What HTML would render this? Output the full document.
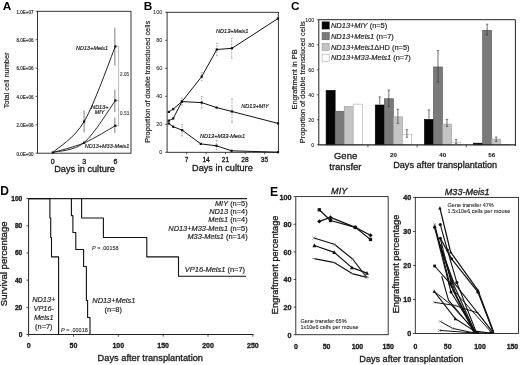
<!DOCTYPE html>
<html><head><meta charset="utf-8"><style>
html,body{margin:0;padding:0;background:#fff;}
svg{display:block;font-family:"Liberation Sans", sans-serif;filter:blur(0.3px);}
text{stroke:#111;stroke-width:0.3px;paint-order:stroke;}
text.nb{stroke:none;}
text.sm{stroke-width:0.08px;}
text.md{stroke-width:0.16px;}
</style></head><body>
<svg width="520" height="365" viewBox="0 0 520 365">
<rect width="520" height="365" fill="#fff"/>
<text x="2.70" y="9.80" font-size="11.8" text-anchor="start" font-weight="bold" font-style="normal" fill="#000" class="nb">A</text>
<rect x="37.50" y="11.30" width="93.50" height="141.90" fill="none" stroke="#222" stroke-width="0.9"/>
<line x1="35.50" y1="11.30" x2="37.50" y2="11.30" stroke="#222" stroke-width="0.7"/>
<text x="33.50" y="13.70" font-size="4.5" text-anchor="end" font-weight="normal" font-style="normal" fill="#333" class="md">1.0E+07</text>
<line x1="35.50" y1="39.68" x2="37.50" y2="39.68" stroke="#222" stroke-width="0.7"/>
<text x="33.50" y="42.08" font-size="4.5" text-anchor="end" font-weight="normal" font-style="normal" fill="#333" class="md">8.0E+06</text>
<line x1="35.50" y1="68.06" x2="37.50" y2="68.06" stroke="#222" stroke-width="0.7"/>
<text x="33.50" y="70.46" font-size="4.5" text-anchor="end" font-weight="normal" font-style="normal" fill="#333" class="md">6.0E+06</text>
<line x1="35.50" y1="96.44" x2="37.50" y2="96.44" stroke="#222" stroke-width="0.7"/>
<text x="33.50" y="98.84" font-size="4.5" text-anchor="end" font-weight="normal" font-style="normal" fill="#333" class="md">4.0E+06</text>
<line x1="35.50" y1="124.82" x2="37.50" y2="124.82" stroke="#222" stroke-width="0.7"/>
<text x="33.50" y="127.22" font-size="4.5" text-anchor="end" font-weight="normal" font-style="normal" fill="#333" class="md">2.0E+06</text>
<line x1="35.50" y1="153.20" x2="37.50" y2="153.20" stroke="#222" stroke-width="0.7"/>
<text x="33.50" y="155.60" font-size="4.5" text-anchor="end" font-weight="normal" font-style="normal" fill="#333" class="md">0.0E+00</text>
<text x="52.80" y="163.70" font-size="7.0" text-anchor="middle" font-weight="normal" font-style="normal" fill="#1a1a1a">0</text>
<text x="84.10" y="163.70" font-size="7.0" text-anchor="middle" font-weight="normal" font-style="normal" fill="#1a1a1a">3</text>
<text x="115.40" y="163.70" font-size="7.0" text-anchor="middle" font-weight="normal" font-style="normal" fill="#1a1a1a">6</text>
<text x="84.60" y="172.10" font-size="9.2" text-anchor="middle" font-weight="normal" font-style="normal" fill="#1a1a1a">Days in culture</text>
<text x="8.80" y="80.40" font-size="7.4" text-anchor="middle" font-weight="normal" font-style="normal" fill="#1a1a1a" transform="rotate(-90 8.8 80.4)" class="md">Total cell number</text>
<line x1="114.80" y1="27.80" x2="114.80" y2="65.40" stroke="#a4a4a4" stroke-width="1.4"/>
<line x1="84.10" y1="110.60" x2="84.10" y2="132.40" stroke="#a4a4a4" stroke-width="1.4"/>
<line x1="114.80" y1="89.60" x2="114.80" y2="112.00" stroke="#a4a4a4" stroke-width="1.4"/>
<line x1="114.80" y1="117.50" x2="114.80" y2="133.00" stroke="#a4a4a4" stroke-width="1.4"/>
<path d="M52.80,152.50 C58.02,147.35 73.67,139.28 84.10,121.60 C94.53,103.92 110.18,58.93 115.40,46.40" fill="none" stroke="#222" stroke-width="1.0"/>
<path d="M52.80,152.50 C58.02,150.85 73.67,151.27 84.10,142.60 C94.53,133.93 110.18,107.52 115.40,100.50" fill="none" stroke="#222" stroke-width="0.95"/>
<path d="M52.80,152.50 C58.02,150.90 73.67,147.37 84.10,142.90 C94.53,138.43 110.18,128.57 115.40,125.70" fill="none" stroke="#222" stroke-width="0.95"/>
<rect x="51.70" y="151.40" width="2.20" height="2.20" fill="#111" stroke="none" stroke-width="1"/>
<rect x="83.00" y="120.50" width="2.20" height="2.20" fill="#111" stroke="none" stroke-width="1"/>
<rect x="114.30" y="45.30" width="2.20" height="2.20" fill="#111" stroke="none" stroke-width="1"/>
<rect x="83.00" y="141.70" width="2.20" height="2.20" fill="#111" stroke="none" stroke-width="1"/>
<rect x="114.30" y="99.40" width="2.20" height="2.20" fill="#111" stroke="none" stroke-width="1"/>
<rect x="114.30" y="124.60" width="2.20" height="2.20" fill="#111" stroke="none" stroke-width="1"/>
<line x1="118.60" y1="46.40" x2="118.60" y2="125.70" stroke="#bbb" stroke-width="1.0"/>
<line x1="117.10" y1="46.40" x2="119.10" y2="46.40" stroke="#999" stroke-width="0.7"/>
<line x1="117.10" y1="100.50" x2="119.10" y2="100.50" stroke="#999" stroke-width="0.7"/>
<line x1="117.10" y1="125.70" x2="119.10" y2="125.70" stroke="#999" stroke-width="0.7"/>
<text x="120.10" y="76.00" font-size="4.6" text-anchor="start" font-weight="normal" font-style="normal" fill="#333" class="sm">2.05</text>
<text x="120.10" y="115.40" font-size="4.6" text-anchor="start" font-weight="normal" font-style="normal" fill="#333" class="sm">0.53</text>
<text x="92.10" y="49.90" font-size="5.5" text-anchor="middle" font-weight="normal" font-style="italic" fill="#1a1a1a" class="md">ND13+Meis1</text>
<text x="99.80" y="108.60" font-size="5.5" text-anchor="middle" font-weight="normal" font-style="italic" fill="#1a1a1a" class="md">ND13+</text>
<text x="99.60" y="114.20" font-size="5.5" text-anchor="middle" font-weight="normal" font-style="italic" fill="#1a1a1a" class="md">MIY</text>
<text x="107.00" y="148.20" font-size="5.5" text-anchor="middle" font-weight="normal" font-style="italic" fill="#1a1a1a" class="md">ND13+M33-Meis1</text>
<text x="143.80" y="9.90" font-size="11.8" text-anchor="start" font-weight="bold" font-style="normal" fill="#000" class="nb">B</text>
<rect x="167.10" y="12.30" width="111.30" height="140.00" fill="none" stroke="#222" stroke-width="0.9"/>
<line x1="165.10" y1="12.30" x2="167.10" y2="12.30" stroke="#222" stroke-width="0.7"/>
<text x="162.30" y="14.20" font-size="5.5" text-anchor="end" font-weight="normal" font-style="normal" fill="#333" class="sm">100</text>
<line x1="165.10" y1="40.30" x2="167.10" y2="40.30" stroke="#222" stroke-width="0.7"/>
<text x="162.30" y="42.20" font-size="5.5" text-anchor="end" font-weight="normal" font-style="normal" fill="#333" class="sm">80</text>
<line x1="165.10" y1="68.30" x2="167.10" y2="68.30" stroke="#222" stroke-width="0.7"/>
<text x="162.30" y="70.20" font-size="5.5" text-anchor="end" font-weight="normal" font-style="normal" fill="#333" class="sm">60</text>
<line x1="165.10" y1="96.30" x2="167.10" y2="96.30" stroke="#222" stroke-width="0.7"/>
<text x="162.30" y="98.20" font-size="5.5" text-anchor="end" font-weight="normal" font-style="normal" fill="#333" class="sm">40</text>
<line x1="165.10" y1="124.30" x2="167.10" y2="124.30" stroke="#222" stroke-width="0.7"/>
<text x="162.30" y="126.20" font-size="5.5" text-anchor="end" font-weight="normal" font-style="normal" fill="#333" class="sm">20</text>
<line x1="165.10" y1="152.30" x2="167.10" y2="152.30" stroke="#222" stroke-width="0.7"/>
<text x="162.30" y="154.20" font-size="5.5" text-anchor="end" font-weight="normal" font-style="normal" fill="#333" class="sm">0</text>
<line x1="186.58" y1="152.30" x2="186.58" y2="154.30" stroke="#222" stroke-width="0.7"/>
<text x="186.58" y="161.80" font-size="6.6" text-anchor="middle" font-weight="normal" font-style="normal" fill="#1a1a1a">7</text>
<line x1="206.06" y1="152.30" x2="206.06" y2="154.30" stroke="#222" stroke-width="0.7"/>
<text x="206.06" y="161.80" font-size="6.6" text-anchor="middle" font-weight="normal" font-style="normal" fill="#1a1a1a">14</text>
<line x1="225.53" y1="152.30" x2="225.53" y2="154.30" stroke="#222" stroke-width="0.7"/>
<text x="225.53" y="161.80" font-size="6.6" text-anchor="middle" font-weight="normal" font-style="normal" fill="#1a1a1a">21</text>
<line x1="245.01" y1="152.30" x2="245.01" y2="154.30" stroke="#222" stroke-width="0.7"/>
<text x="245.01" y="161.80" font-size="6.6" text-anchor="middle" font-weight="normal" font-style="normal" fill="#1a1a1a">28</text>
<line x1="264.49" y1="152.30" x2="264.49" y2="154.30" stroke="#222" stroke-width="0.7"/>
<text x="264.49" y="161.80" font-size="6.6" text-anchor="middle" font-weight="normal" font-style="normal" fill="#1a1a1a">35</text>
<text x="222.40" y="171.40" font-size="9.2" text-anchor="middle" font-weight="normal" font-style="normal" fill="#1a1a1a">Days in culture</text>
<text x="150.00" y="81.80" font-size="7.4" text-anchor="middle" font-weight="normal" font-style="normal" fill="#1a1a1a" transform="rotate(-90 150.0 81.8)" class="md">Proportion of double transduced cells</text>
<line x1="231.70" y1="38.30" x2="231.70" y2="58.40" stroke="#999" stroke-width="1.1" stroke-dasharray="0.8 0.7"/>
<line x1="230.80" y1="38.30" x2="232.60" y2="38.30" stroke="#999" stroke-width="0.6"/>
<line x1="230.80" y1="58.40" x2="232.60" y2="58.40" stroke="#999" stroke-width="0.6"/>
<line x1="216.90" y1="43.20" x2="216.90" y2="55.90" stroke="#999" stroke-width="1.1" stroke-dasharray="0.8 0.7"/>
<line x1="216.00" y1="43.20" x2="217.80" y2="43.20" stroke="#999" stroke-width="0.6"/>
<line x1="216.00" y1="55.90" x2="217.80" y2="55.90" stroke="#999" stroke-width="0.6"/>
<line x1="232.00" y1="99.00" x2="232.00" y2="122.50" stroke="#999" stroke-width="1.1" stroke-dasharray="0.8 0.7"/>
<line x1="231.10" y1="99.00" x2="232.90" y2="99.00" stroke="#999" stroke-width="0.6"/>
<line x1="231.10" y1="122.50" x2="232.90" y2="122.50" stroke="#999" stroke-width="0.6"/>
<line x1="201.70" y1="96.50" x2="201.70" y2="108.00" stroke="#999" stroke-width="1.1" stroke-dasharray="0.8 0.7"/>
<line x1="200.80" y1="96.50" x2="202.60" y2="96.50" stroke="#999" stroke-width="0.6"/>
<line x1="200.80" y1="108.00" x2="202.60" y2="108.00" stroke="#999" stroke-width="0.6"/>
<line x1="182.00" y1="124.50" x2="182.00" y2="136.00" stroke="#999" stroke-width="1.1" stroke-dasharray="0.8 0.7"/>
<line x1="181.10" y1="124.50" x2="182.90" y2="124.50" stroke="#999" stroke-width="0.6"/>
<line x1="181.10" y1="136.00" x2="182.90" y2="136.00" stroke="#999" stroke-width="0.6"/>
<line x1="216.50" y1="140.00" x2="216.50" y2="150.00" stroke="#999" stroke-width="1.1" stroke-dasharray="0.8 0.7"/>
<line x1="215.60" y1="140.00" x2="217.40" y2="140.00" stroke="#999" stroke-width="0.6"/>
<line x1="215.60" y1="150.00" x2="217.40" y2="150.00" stroke="#999" stroke-width="0.6"/>
<line x1="278.00" y1="14.50" x2="278.00" y2="22.00" stroke="#999" stroke-width="1.1" stroke-dasharray="0.8 0.7"/>
<line x1="277.10" y1="14.50" x2="278.90" y2="14.50" stroke="#999" stroke-width="0.6"/>
<line x1="277.10" y1="22.00" x2="278.90" y2="22.00" stroke="#999" stroke-width="0.6"/>
<line x1="201.70" y1="72.50" x2="201.70" y2="80.50" stroke="#999" stroke-width="1.1" stroke-dasharray="0.8 0.7"/>
<line x1="200.80" y1="72.50" x2="202.60" y2="72.50" stroke="#999" stroke-width="0.6"/>
<line x1="200.80" y1="80.50" x2="202.60" y2="80.50" stroke="#999" stroke-width="0.6"/>
<line x1="182.00" y1="98.00" x2="182.00" y2="105.00" stroke="#999" stroke-width="1.1" stroke-dasharray="0.8 0.7"/>
<line x1="181.10" y1="98.00" x2="182.90" y2="98.00" stroke="#999" stroke-width="0.6"/>
<line x1="181.10" y1="105.00" x2="182.90" y2="105.00" stroke="#999" stroke-width="0.6"/>
<polyline points="168.80,120.70 173.20,118.50 181.90,101.60 201.70,76.60 216.80,49.50 232.00,48.30 278.00,18.50" fill="none" stroke="#111" stroke-width="1.0" stroke-linejoin="round"/>
<rect x="167.70" y="119.60" width="2.20" height="2.20" fill="#111" stroke="none" stroke-width="1"/>
<rect x="172.10" y="117.40" width="2.20" height="2.20" fill="#111" stroke="none" stroke-width="1"/>
<rect x="180.80" y="100.50" width="2.20" height="2.20" fill="#111" stroke="none" stroke-width="1"/>
<rect x="200.60" y="75.50" width="2.20" height="2.20" fill="#111" stroke="none" stroke-width="1"/>
<rect x="215.70" y="48.40" width="2.20" height="2.20" fill="#111" stroke="none" stroke-width="1"/>
<rect x="230.90" y="47.20" width="2.20" height="2.20" fill="#111" stroke="none" stroke-width="1"/>
<rect x="276.90" y="17.40" width="2.20" height="2.20" fill="#111" stroke="none" stroke-width="1"/>
<polyline points="168.80,111.90 173.20,109.10 181.90,101.60 201.70,102.60 216.60,107.60 232.00,111.50 278.00,123.40" fill="none" stroke="#111" stroke-width="1.0" stroke-linejoin="round"/>
<rect x="167.70" y="110.80" width="2.20" height="2.20" fill="#111" stroke="none" stroke-width="1"/>
<rect x="172.10" y="108.00" width="2.20" height="2.20" fill="#111" stroke="none" stroke-width="1"/>
<rect x="180.80" y="100.50" width="2.20" height="2.20" fill="#111" stroke="none" stroke-width="1"/>
<rect x="200.60" y="101.50" width="2.20" height="2.20" fill="#111" stroke="none" stroke-width="1"/>
<rect x="215.50" y="106.50" width="2.20" height="2.20" fill="#111" stroke="none" stroke-width="1"/>
<rect x="230.90" y="110.40" width="2.20" height="2.20" fill="#111" stroke="none" stroke-width="1"/>
<rect x="276.90" y="122.30" width="2.20" height="2.20" fill="#111" stroke="none" stroke-width="1"/>
<polyline points="168.80,123.50 173.20,126.70 182.20,130.20 200.80,143.90 216.50,145.80 231.50,150.80 278.00,152.20" fill="none" stroke="#111" stroke-width="1.0" stroke-linejoin="round"/>
<rect x="167.70" y="122.40" width="2.20" height="2.20" fill="#111" stroke="none" stroke-width="1"/>
<rect x="172.10" y="125.60" width="2.20" height="2.20" fill="#111" stroke="none" stroke-width="1"/>
<rect x="181.10" y="129.10" width="2.20" height="2.20" fill="#111" stroke="none" stroke-width="1"/>
<rect x="199.70" y="142.80" width="2.20" height="2.20" fill="#111" stroke="none" stroke-width="1"/>
<rect x="215.40" y="144.70" width="2.20" height="2.20" fill="#111" stroke="none" stroke-width="1"/>
<rect x="230.40" y="149.70" width="2.20" height="2.20" fill="#111" stroke="none" stroke-width="1"/>
<rect x="276.90" y="151.10" width="2.20" height="2.20" fill="#111" stroke="none" stroke-width="1"/>
<text x="232.20" y="33.00" font-size="5.6" text-anchor="middle" font-weight="normal" font-style="italic" fill="#1a1a1a" class="md">ND13+Meis1</text>
<text x="255.00" y="108.40" font-size="5.6" text-anchor="middle" font-weight="normal" font-style="italic" fill="#1a1a1a" class="md">ND13+MIY</text>
<text x="222.50" y="137.60" font-size="5.6" text-anchor="middle" font-weight="normal" font-style="italic" fill="#1a1a1a" class="md">ND13+M33-Meis1</text>
<text x="291.00" y="9.50" font-size="11.8" text-anchor="start" font-weight="bold" font-style="normal" fill="#000" class="nb">C</text>
<line x1="316.80" y1="19.70" x2="318.80" y2="19.70" stroke="#222" stroke-width="0.7"/>
<text x="314.20" y="21.50" font-size="5.3" text-anchor="end" font-weight="normal" font-style="normal" fill="#222" class="sm">100</text>
<line x1="316.80" y1="44.72" x2="318.80" y2="44.72" stroke="#222" stroke-width="0.7"/>
<text x="314.20" y="46.52" font-size="5.3" text-anchor="end" font-weight="normal" font-style="normal" fill="#222" class="sm">80</text>
<line x1="316.80" y1="69.74" x2="318.80" y2="69.74" stroke="#222" stroke-width="0.7"/>
<text x="314.20" y="71.54" font-size="5.3" text-anchor="end" font-weight="normal" font-style="normal" fill="#222" class="sm">60</text>
<line x1="316.80" y1="94.76" x2="318.80" y2="94.76" stroke="#222" stroke-width="0.7"/>
<text x="314.20" y="96.56" font-size="5.3" text-anchor="end" font-weight="normal" font-style="normal" fill="#222" class="sm">40</text>
<line x1="316.80" y1="119.78" x2="318.80" y2="119.78" stroke="#222" stroke-width="0.7"/>
<text x="314.20" y="121.58" font-size="5.3" text-anchor="end" font-weight="normal" font-style="normal" fill="#222" class="sm">20</text>
<line x1="316.80" y1="144.80" x2="318.80" y2="144.80" stroke="#222" stroke-width="0.7"/>
<text x="314.20" y="146.60" font-size="5.3" text-anchor="end" font-weight="normal" font-style="normal" fill="#222" class="sm">0</text>
<line x1="367.95" y1="144.80" x2="367.95" y2="147.30" stroke="#222" stroke-width="0.7"/>
<line x1="417.10" y1="144.80" x2="417.10" y2="147.30" stroke="#222" stroke-width="0.7"/>
<line x1="466.25" y1="144.80" x2="466.25" y2="147.30" stroke="#222" stroke-width="0.7"/>
<rect x="326.10" y="90.36" width="9.05" height="54.44" fill="#050505" stroke="#000" stroke-width="0.6"/>
<rect x="335.15" y="111.25" width="9.05" height="33.55" fill="#7a7a7a" stroke="#555" stroke-width="0.6"/>
<rect x="344.20" y="106.62" width="9.05" height="38.18" fill="#c4c4c4" stroke="#999" stroke-width="0.6"/>
<rect x="353.25" y="104.12" width="9.05" height="40.68" fill="#ffffff" stroke="#aaa" stroke-width="0.6"/>
<rect x="375.25" y="104.99" width="9.05" height="39.81" fill="#050505" stroke="#000" stroke-width="0.6"/>
<rect x="384.30" y="98.74" width="9.05" height="46.06" fill="#7a7a7a" stroke="#555" stroke-width="0.6"/>
<rect x="393.35" y="116.88" width="9.05" height="27.92" fill="#c4c4c4" stroke="#999" stroke-width="0.6"/>
<rect x="402.40" y="134.39" width="9.05" height="10.41" fill="#ffffff" stroke="#aaa" stroke-width="0.6"/>
<line x1="379.77" y1="96.90" x2="379.77" y2="104.39" stroke="#333" stroke-width="0.7"/>
<line x1="378.57" y1="96.90" x2="380.97" y2="96.90" stroke="#333" stroke-width="0.6"/>
<line x1="388.82" y1="90.00" x2="388.82" y2="106.50" stroke="#333" stroke-width="0.7"/>
<line x1="387.62" y1="90.00" x2="390.02" y2="90.00" stroke="#333" stroke-width="0.6"/>
<line x1="387.62" y1="106.50" x2="390.02" y2="106.50" stroke="#333" stroke-width="0.6"/>
<line x1="397.88" y1="109.20" x2="397.88" y2="123.30" stroke="#333" stroke-width="0.7"/>
<line x1="396.68" y1="109.20" x2="399.07" y2="109.20" stroke="#333" stroke-width="0.6"/>
<line x1="396.68" y1="123.30" x2="399.07" y2="123.30" stroke="#333" stroke-width="0.6"/>
<line x1="406.92" y1="129.60" x2="406.92" y2="137.30" stroke="#333" stroke-width="0.7"/>
<line x1="405.72" y1="129.60" x2="408.12" y2="129.60" stroke="#333" stroke-width="0.6"/>
<line x1="405.72" y1="137.30" x2="408.12" y2="137.30" stroke="#333" stroke-width="0.6"/>
<rect x="424.40" y="119.38" width="9.05" height="25.42" fill="#050505" stroke="#000" stroke-width="0.6"/>
<rect x="433.45" y="66.96" width="9.05" height="77.84" fill="#7a7a7a" stroke="#555" stroke-width="0.6"/>
<rect x="442.50" y="124.13" width="9.05" height="20.67" fill="#c4c4c4" stroke="#999" stroke-width="0.6"/>
<rect x="451.55" y="142.15" width="9.05" height="2.65" fill="#ffffff" stroke="#aaa" stroke-width="0.6"/>
<line x1="428.93" y1="109.80" x2="428.93" y2="118.78" stroke="#333" stroke-width="0.7"/>
<line x1="427.73" y1="109.80" x2="430.12" y2="109.80" stroke="#333" stroke-width="0.6"/>
<line x1="437.98" y1="50.60" x2="437.98" y2="82.00" stroke="#333" stroke-width="0.7"/>
<line x1="436.78" y1="50.60" x2="439.18" y2="50.60" stroke="#333" stroke-width="0.6"/>
<line x1="436.78" y1="82.00" x2="439.18" y2="82.00" stroke="#333" stroke-width="0.6"/>
<line x1="447.03" y1="119.40" x2="447.03" y2="126.50" stroke="#333" stroke-width="0.7"/>
<line x1="445.83" y1="119.40" x2="448.23" y2="119.40" stroke="#333" stroke-width="0.6"/>
<line x1="445.83" y1="126.50" x2="448.23" y2="126.50" stroke="#333" stroke-width="0.6"/>
<line x1="456.07" y1="139.60" x2="456.07" y2="143.50" stroke="#333" stroke-width="0.7"/>
<line x1="454.88" y1="139.60" x2="457.27" y2="139.60" stroke="#333" stroke-width="0.6"/>
<line x1="454.88" y1="143.50" x2="457.27" y2="143.50" stroke="#333" stroke-width="0.6"/>
<rect x="473.55" y="143.15" width="9.05" height="1.65" fill="#050505" stroke="#000" stroke-width="0.6"/>
<rect x="482.60" y="30.31" width="9.05" height="114.49" fill="#7a7a7a" stroke="#555" stroke-width="0.6"/>
<rect x="491.65" y="139.15" width="9.05" height="5.66" fill="#c4c4c4" stroke="#999" stroke-width="0.6"/>
<rect x="500.70" y="144.65" width="9.05" height="0.15" fill="#ffffff" stroke="#aaa" stroke-width="0.6"/>
<line x1="487.12" y1="24.20" x2="487.12" y2="35.00" stroke="#333" stroke-width="0.7"/>
<line x1="485.93" y1="24.20" x2="488.32" y2="24.20" stroke="#333" stroke-width="0.6"/>
<line x1="485.93" y1="35.00" x2="488.32" y2="35.00" stroke="#333" stroke-width="0.6"/>
<line x1="496.18" y1="137.00" x2="496.18" y2="141.50" stroke="#333" stroke-width="0.7"/>
<line x1="494.98" y1="137.00" x2="497.38" y2="137.00" stroke="#333" stroke-width="0.6"/>
<line x1="494.98" y1="141.50" x2="497.38" y2="141.50" stroke="#333" stroke-width="0.6"/>
<line x1="318.80" y1="19.70" x2="515.40" y2="19.70" stroke="#222" stroke-width="1.0"/>
<line x1="515.40" y1="19.70" x2="515.40" y2="146.00" stroke="#222" stroke-width="1.0"/>
<line x1="318.80" y1="19.70" x2="318.80" y2="144.80" stroke="#222" stroke-width="1.0"/>
<line x1="318.30" y1="144.80" x2="515.40" y2="144.80" stroke="#222" stroke-width="1.2"/>
<rect x="322.10" y="21.90" width="7.10" height="7.10" fill="#050505" stroke="#000" stroke-width="0.6"/>
<text class="md" x="331.0" y="28.20" font-size="7.45" fill="#1a1a1a"><tspan font-style="italic">ND13+MIY</tspan><tspan> (n=5)</tspan></text>
<rect x="322.10" y="32.65" width="7.10" height="7.10" fill="#7a7a7a" stroke="#555" stroke-width="0.6"/>
<text class="md" x="331.0" y="38.95" font-size="7.45" fill="#1a1a1a"><tspan font-style="italic">ND13+Meis1</tspan><tspan> (n=7)</tspan></text>
<rect x="322.10" y="43.40" width="7.10" height="7.10" fill="#c4c4c4" stroke="#999" stroke-width="0.6"/>
<text class="md" x="331.0" y="49.70" font-size="7.45" fill="#1a1a1a"><tspan font-style="italic">ND13+Meis1</tspan><tspan>ΔHD (n=5)</tspan></text>
<rect x="322.10" y="54.15" width="7.10" height="7.10" fill="#ffffff" stroke="#aaa" stroke-width="0.6"/>
<text class="md" x="331.0" y="60.45" font-size="7.45" fill="#1a1a1a"><tspan font-style="italic">ND13+M33-Meis1</tspan><tspan> (n=7)</tspan></text>
<text x="296.60" y="79.40" font-size="7.4" text-anchor="middle" font-weight="normal" font-style="normal" fill="#1a1a1a" transform="rotate(-90 296.6 79.4)" class="md">Engraftment in PB</text>
<text x="304.80" y="82.20" font-size="7.4" text-anchor="middle" font-weight="normal" font-style="normal" fill="#1a1a1a" transform="rotate(-90 304.8 82.2)" class="md">Proportion of double transduced cells</text>
<text x="345.60" y="159.40" font-size="9.5" text-anchor="middle" font-weight="normal" font-style="normal" fill="#1a1a1a">Gene</text>
<text x="345.40" y="170.00" font-size="9.5" text-anchor="middle" font-weight="normal" font-style="normal" fill="#1a1a1a">transfer</text>
<text x="393.52" y="157.40" font-size="6.2" text-anchor="middle" font-weight="bold" font-style="normal" fill="#1a1a1a" class="sm">20</text>
<text x="442.68" y="157.40" font-size="6.2" text-anchor="middle" font-weight="bold" font-style="normal" fill="#1a1a1a" class="sm">40</text>
<text x="491.82" y="157.40" font-size="6.2" text-anchor="middle" font-weight="bold" font-style="normal" fill="#1a1a1a" class="sm">56</text>
<text x="445.20" y="168.20" font-size="9.13" text-anchor="middle" font-weight="normal" font-style="normal" fill="#1a1a1a">Days after transplantation</text>
<text x="0.30" y="194.80" font-size="12.0" text-anchor="start" font-weight="bold" font-style="normal" fill="#000" class="nb">D</text>
<line x1="28.60" y1="198.10" x2="28.60" y2="334.50" stroke="#222" stroke-width="1.0"/>
<line x1="28.60" y1="334.50" x2="253.50" y2="334.50" stroke="#222" stroke-width="1.0"/>
<line x1="26.40" y1="198.60" x2="28.60" y2="198.60" stroke="#222" stroke-width="0.8"/>
<text x="22.30" y="201.00" font-size="6.6" text-anchor="end" font-weight="bold" font-style="normal" fill="#1a1a1a">100</text>
<line x1="26.40" y1="225.78" x2="28.60" y2="225.78" stroke="#222" stroke-width="0.8"/>
<text x="22.30" y="228.18" font-size="6.6" text-anchor="end" font-weight="bold" font-style="normal" fill="#1a1a1a">80</text>
<line x1="26.40" y1="252.96" x2="28.60" y2="252.96" stroke="#222" stroke-width="0.8"/>
<text x="22.30" y="255.36" font-size="6.6" text-anchor="end" font-weight="bold" font-style="normal" fill="#1a1a1a">60</text>
<line x1="26.40" y1="280.14" x2="28.60" y2="280.14" stroke="#222" stroke-width="0.8"/>
<text x="22.30" y="282.54" font-size="6.6" text-anchor="end" font-weight="bold" font-style="normal" fill="#1a1a1a">40</text>
<line x1="26.40" y1="307.32" x2="28.60" y2="307.32" stroke="#222" stroke-width="0.8"/>
<text x="22.30" y="309.72" font-size="6.6" text-anchor="end" font-weight="bold" font-style="normal" fill="#1a1a1a">20</text>
<line x1="26.40" y1="334.50" x2="28.60" y2="334.50" stroke="#222" stroke-width="0.8"/>
<text x="22.30" y="336.90" font-size="6.6" text-anchor="end" font-weight="bold" font-style="normal" fill="#1a1a1a">0</text>
<line x1="28.60" y1="334.50" x2="28.60" y2="336.70" stroke="#222" stroke-width="0.8"/>
<text x="28.60" y="348.10" font-size="7.0" text-anchor="middle" font-weight="bold" font-style="normal" fill="#1a1a1a">0</text>
<line x1="73.46" y1="334.50" x2="73.46" y2="336.70" stroke="#222" stroke-width="0.8"/>
<text x="73.46" y="348.10" font-size="7.0" text-anchor="middle" font-weight="bold" font-style="normal" fill="#1a1a1a">50</text>
<line x1="118.32" y1="334.50" x2="118.32" y2="336.70" stroke="#222" stroke-width="0.8"/>
<text x="118.32" y="348.10" font-size="7.0" text-anchor="middle" font-weight="bold" font-style="normal" fill="#1a1a1a">100</text>
<line x1="163.18" y1="334.50" x2="163.18" y2="336.70" stroke="#222" stroke-width="0.8"/>
<text x="163.18" y="348.10" font-size="7.0" text-anchor="middle" font-weight="bold" font-style="normal" fill="#1a1a1a">150</text>
<line x1="208.04" y1="334.50" x2="208.04" y2="336.70" stroke="#222" stroke-width="0.8"/>
<text x="208.04" y="348.10" font-size="7.0" text-anchor="middle" font-weight="bold" font-style="normal" fill="#1a1a1a">200</text>
<line x1="252.90" y1="334.50" x2="252.90" y2="336.70" stroke="#222" stroke-width="0.8"/>
<text x="252.90" y="348.10" font-size="7.0" text-anchor="middle" font-weight="bold" font-style="normal" fill="#1a1a1a">250</text>
<text x="150.30" y="361.20" font-size="9.25" text-anchor="middle" font-weight="normal" font-style="normal" fill="#1a1a1a">Days after transplantation</text>
<text x="7.40" y="263.80" font-size="9.6" text-anchor="middle" font-weight="normal" font-style="normal" fill="#1a1a1a" transform="rotate(-90 7.4 263.8)">Survival percentage</text>
<line x1="28.60" y1="198.60" x2="247.00" y2="198.60" stroke="#222" stroke-width="1.1"/>
<polyline points="28.60,198.60 49.90,198.60 49.90,218.03 50.70,218.03 50.70,237.47 51.50,237.47 51.50,256.90 58.60,256.90 58.60,334.50" fill="none" stroke="#111" stroke-width="1.1" stroke-linejoin="round" stroke-linejoin="miter"/>
<polyline points="71.40,198.60 71.40,215.59 72.90,215.59 72.90,232.57 75.80,232.57 75.80,249.56 83.60,249.56 83.60,266.55 86.40,266.55 86.40,300.52 87.60,300.52 87.60,317.51 90.00,317.51 90.00,334.50" fill="none" stroke="#111" stroke-width="1.1" stroke-linejoin="round"/>
<polyline points="81.60,198.60 81.60,218.03 103.40,218.03 103.40,237.47 146.80,237.47 146.80,256.90 178.50,256.90 178.50,276.20 246.00,276.20" fill="none" stroke="#111" stroke-width="1.1" stroke-linejoin="round"/>
<text class="md" x="247.60" y="205.80" font-size="7.4" text-anchor="end" fill="#1a1a1a"><tspan font-style="italic">MIY</tspan><tspan> (n=5)</tspan></text>
<text class="md" x="247.60" y="214.05" font-size="7.4" text-anchor="end" fill="#1a1a1a"><tspan font-style="italic">ND13</tspan><tspan> (n=4)</tspan></text>
<text class="md" x="247.60" y="222.30" font-size="7.4" text-anchor="end" fill="#1a1a1a"><tspan font-style="italic">Meis1</tspan><tspan> (n=4)</tspan></text>
<text class="md" x="247.60" y="230.55" font-size="7.4" text-anchor="end" fill="#1a1a1a"><tspan font-style="italic">ND13+M33-Meis1</tspan><tspan> (n=5)</tspan></text>
<text class="md" x="247.60" y="238.80" font-size="7.4" text-anchor="end" fill="#1a1a1a"><tspan font-style="italic">M33-Meis1</tspan><tspan> (n=14)</tspan></text>
<text class="md" x="245.00" y="271.90" font-size="7.45" text-anchor="end" fill="#1a1a1a"><tspan font-style="italic">VP16-Meis1</tspan><tspan> (n=7)</tspan></text>
<text class="sm" x="92.0" y="250.3" font-size="5.45" fill="#1a1a1a"><tspan font-style="italic">P</tspan> = .00158</text>
<text class="sm" x="61.0" y="331.6" font-size="5.5" fill="#1a1a1a"><tspan font-style="italic">P</tspan> = .00018</text>
<text x="43.80" y="301.60" font-size="7.4" text-anchor="middle" font-weight="normal" font-style="italic" fill="#1a1a1a" class="md">ND13+</text>
<text x="43.80" y="310.80" font-size="7.4" text-anchor="middle" font-weight="normal" font-style="italic" fill="#1a1a1a" class="md">VP16-</text>
<text x="43.80" y="320.00" font-size="7.4" text-anchor="middle" font-weight="normal" font-style="italic" fill="#1a1a1a" class="md">Meis1</text>
<text x="43.80" y="329.00" font-size="7.4" text-anchor="middle" font-weight="normal" font-style="normal" fill="#1a1a1a" class="md">(n=7)</text>
<text x="113.80" y="302.80" font-size="7.4" text-anchor="middle" font-weight="normal" font-style="italic" fill="#1a1a1a" class="md">ND13+Meis1</text>
<text x="113.20" y="311.80" font-size="7.4" text-anchor="middle" font-weight="normal" font-style="normal" fill="#1a1a1a" class="md">(n=8)</text>
<text x="269.90" y="195.60" font-size="12.2" text-anchor="start" font-weight="bold" font-style="normal" fill="#000" class="nb">E</text>
<rect x="295.80" y="196.60" width="92.40" height="138.10" fill="none" stroke="#222" stroke-width="0.9"/>
<line x1="293.60" y1="196.60" x2="295.80" y2="196.60" stroke="#222" stroke-width="0.8"/>
<text x="291.60" y="199.50" font-size="7.2" text-anchor="end" font-weight="bold" font-style="normal" fill="#1a1a1a">100</text>
<line x1="293.60" y1="224.22" x2="295.80" y2="224.22" stroke="#222" stroke-width="0.8"/>
<text x="291.60" y="227.12" font-size="7.2" text-anchor="end" font-weight="bold" font-style="normal" fill="#1a1a1a">80</text>
<line x1="293.60" y1="251.84" x2="295.80" y2="251.84" stroke="#222" stroke-width="0.8"/>
<text x="291.60" y="254.74" font-size="7.2" text-anchor="end" font-weight="bold" font-style="normal" fill="#1a1a1a">60</text>
<line x1="293.60" y1="279.46" x2="295.80" y2="279.46" stroke="#222" stroke-width="0.8"/>
<text x="291.60" y="282.36" font-size="7.2" text-anchor="end" font-weight="bold" font-style="normal" fill="#1a1a1a">40</text>
<line x1="293.60" y1="307.08" x2="295.80" y2="307.08" stroke="#222" stroke-width="0.8"/>
<text x="291.60" y="309.98" font-size="7.2" text-anchor="end" font-weight="bold" font-style="normal" fill="#1a1a1a">20</text>
<line x1="293.60" y1="334.70" x2="295.80" y2="334.70" stroke="#222" stroke-width="0.8"/>
<text x="291.60" y="337.60" font-size="7.2" text-anchor="end" font-weight="bold" font-style="normal" fill="#1a1a1a">0</text>
<text x="295.80" y="348.70" font-size="6.9" text-anchor="middle" font-weight="bold" font-style="normal" fill="#1a1a1a">0</text>
<text x="326.60" y="348.70" font-size="6.9" text-anchor="middle" font-weight="bold" font-style="normal" fill="#1a1a1a">50</text>
<text x="357.40" y="348.70" font-size="6.9" text-anchor="middle" font-weight="bold" font-style="normal" fill="#1a1a1a">100</text>
<text x="388.20" y="348.70" font-size="6.9" text-anchor="middle" font-weight="bold" font-style="normal" fill="#1a1a1a">150</text>
<text x="339.20" y="194.40" font-size="9.1" text-anchor="middle" font-weight="normal" font-style="italic" fill="#1a1a1a">MIY</text>
<text x="278.20" y="264.90" font-size="9.2" text-anchor="middle" font-weight="normal" font-style="normal" fill="#1a1a1a" transform="rotate(-90 278.2 264.9)">Engraftment percentage</text>
<text x="300.40" y="323.20" font-size="5.5" text-anchor="start" font-weight="normal" font-style="normal" fill="#222" class="sm">Gene transfer 65%</text>
<text x="300.40" y="329.30" font-size="5.5" text-anchor="start" font-weight="normal" font-style="normal" fill="#222" class="sm">1x10e6 cells per mouse</text>
<polyline points="319.30,209.80 330.50,220.50 355.30,227.40 370.50,239.50" fill="none" stroke="#111" stroke-width="1.2" stroke-linejoin="round"/>
<rect x="317.65" y="208.15" width="3.30" height="3.30" fill="#111" stroke="none" stroke-width="1"/>
<rect x="328.85" y="218.85" width="3.30" height="3.30" fill="#111" stroke="none" stroke-width="1"/>
<rect x="353.65" y="225.75" width="3.30" height="3.30" fill="#111" stroke="none" stroke-width="1"/>
<rect x="368.85" y="237.85" width="3.30" height="3.30" fill="#111" stroke="none" stroke-width="1"/>
<polyline points="319.30,221.40 330.50,217.40 355.30,227.40 370.50,235.30" fill="none" stroke="#111" stroke-width="1.2" stroke-linejoin="round"/>
<polygon points="319.30,219.25 321.44,221.40 319.30,223.55 317.16,221.40" fill="#111"/>
<polygon points="330.50,215.25 332.64,217.40 330.50,219.55 328.36,217.40" fill="#111"/>
<polygon points="355.30,225.25 357.44,227.40 355.30,229.55 353.16,227.40" fill="#111"/>
<polygon points="370.50,233.16 372.64,235.30 370.50,237.45 368.36,235.30" fill="#111"/>
<polyline points="314.00,238.00 334.30,244.30 352.60,259.00 366.80,277.50" fill="none" stroke="#111" stroke-width="1.2" stroke-linejoin="round"/>
<line x1="312.35" y1="236.35" x2="315.65" y2="239.65" stroke="#777" stroke-width="0.6"/>
<line x1="312.35" y1="239.65" x2="315.65" y2="236.35" stroke="#777" stroke-width="0.6"/>
<line x1="332.65" y1="242.65" x2="335.95" y2="245.95" stroke="#777" stroke-width="0.6"/>
<line x1="332.65" y1="245.95" x2="335.95" y2="242.65" stroke="#777" stroke-width="0.6"/>
<line x1="350.95" y1="257.35" x2="354.25" y2="260.65" stroke="#777" stroke-width="0.6"/>
<line x1="350.95" y1="260.65" x2="354.25" y2="257.35" stroke="#777" stroke-width="0.6"/>
<line x1="365.15" y1="275.85" x2="368.45" y2="279.15" stroke="#777" stroke-width="0.6"/>
<line x1="365.15" y1="279.15" x2="368.45" y2="275.85" stroke="#777" stroke-width="0.6"/>
<polyline points="314.40,245.50 334.30,252.40 351.90,267.60 367.00,273.10" fill="none" stroke="#111" stroke-width="1.2" stroke-linejoin="round"/>
<polygon points="314.40,243.35 316.38,247.15 312.42,247.15" fill="#111"/>
<polygon points="334.30,250.25 336.28,254.05 332.32,254.05" fill="#111"/>
<polygon points="351.90,265.46 353.88,269.25 349.92,269.25" fill="#111"/>
<polygon points="367.00,270.96 368.98,274.75 365.02,274.75" fill="#111"/>
<polyline points="314.20,258.60 334.50,262.70 352.20,273.60 366.80,277.30" fill="none" stroke="#111" stroke-width="1.2" stroke-linejoin="round"/>
<line x1="312.06" y1="258.60" x2="316.34" y2="258.60" stroke="#777" stroke-width="0.6"/>
<line x1="332.36" y1="262.70" x2="336.64" y2="262.70" stroke="#777" stroke-width="0.6"/>
<line x1="350.06" y1="273.60" x2="354.34" y2="273.60" stroke="#777" stroke-width="0.6"/>
<line x1="364.66" y1="277.30" x2="368.94" y2="277.30" stroke="#777" stroke-width="0.6"/>
<rect x="415.30" y="197.40" width="103.20" height="136.10" fill="none" stroke="#222" stroke-width="0.9"/>
<line x1="413.10" y1="197.40" x2="415.30" y2="197.40" stroke="#222" stroke-width="0.8"/>
<text x="411.20" y="200.30" font-size="7.2" text-anchor="end" font-weight="bold" font-style="normal" fill="#1a1a1a">40</text>
<line x1="413.10" y1="231.43" x2="415.30" y2="231.43" stroke="#222" stroke-width="0.8"/>
<text x="411.20" y="234.33" font-size="7.2" text-anchor="end" font-weight="bold" font-style="normal" fill="#1a1a1a">30</text>
<line x1="413.10" y1="265.45" x2="415.30" y2="265.45" stroke="#222" stroke-width="0.8"/>
<text x="411.20" y="268.35" font-size="7.2" text-anchor="end" font-weight="bold" font-style="normal" fill="#1a1a1a">20</text>
<line x1="413.10" y1="299.48" x2="415.30" y2="299.48" stroke="#222" stroke-width="0.8"/>
<text x="411.20" y="302.38" font-size="7.2" text-anchor="end" font-weight="bold" font-style="normal" fill="#1a1a1a">10</text>
<line x1="413.10" y1="333.50" x2="415.30" y2="333.50" stroke="#222" stroke-width="0.8"/>
<text x="411.20" y="336.40" font-size="7.2" text-anchor="end" font-weight="bold" font-style="normal" fill="#1a1a1a">0</text>
<text x="415.30" y="348.70" font-size="6.9" text-anchor="middle" font-weight="bold" font-style="normal" fill="#1a1a1a">0</text>
<text x="447.67" y="348.70" font-size="6.9" text-anchor="middle" font-weight="bold" font-style="normal" fill="#1a1a1a">50</text>
<text x="480.03" y="348.70" font-size="6.9" text-anchor="middle" font-weight="bold" font-style="normal" fill="#1a1a1a">100</text>
<text x="512.40" y="348.70" font-size="6.9" text-anchor="middle" font-weight="bold" font-style="normal" fill="#1a1a1a">150</text>
<text x="467.20" y="194.60" font-size="9.05" text-anchor="middle" font-weight="normal" font-style="italic" fill="#1a1a1a">M33-Meis1</text>
<text x="399.30" y="264.00" font-size="9.2" text-anchor="middle" font-weight="normal" font-style="normal" fill="#1a1a1a" transform="rotate(-90 399.3 264.0)">Engraftment percentage</text>
<text x="447.60" y="206.50" font-size="5.5" text-anchor="start" font-weight="normal" font-style="normal" fill="#222" class="sm">Gene transfer 47%</text>
<text x="447.60" y="213.30" font-size="5.5" text-anchor="start" font-weight="normal" font-style="normal" fill="#222" class="sm">1.5x10e6 cells per mouse</text>
<text x="411.30" y="361.60" font-size="9.13" text-anchor="middle" font-weight="normal" font-style="normal" fill="#1a1a1a">Days after transplantation</text>
<polyline points="439.90,208.00 450.60,252.00 478.00,290.40 493.30,331.00" fill="none" stroke="#111" stroke-width="1.2100000000000002" stroke-linejoin="round"/>
<polygon points="439.90,206.18 441.58,209.40 438.22,209.40" fill="#111"/>
<polygon points="450.60,250.18 452.28,253.40 448.92,253.40" fill="#111"/>
<polygon points="478.00,288.58 479.68,291.80 476.32,291.80" fill="#111"/>
<polyline points="440.30,238.30 451.60,258.80 478.00,292.20 493.60,333.00" fill="none" stroke="#111" stroke-width="1.2100000000000002" stroke-linejoin="round"/>
<circle cx="440.30" cy="238.30" r="1.54" fill="#111"/>
<circle cx="451.60" cy="258.80" r="1.54" fill="#111"/>
<circle cx="478.00" cy="292.20" r="1.54" fill="#111"/>
<polyline points="434.60,224.30 449.50,283.00 475.50,333.00" fill="none" stroke="#111" stroke-width="1.1" stroke-linejoin="round"/>
<line x1="433.20" y1="222.90" x2="436.00" y2="225.70" stroke="#777" stroke-width="0.6"/>
<line x1="433.20" y1="225.70" x2="436.00" y2="222.90" stroke="#777" stroke-width="0.6"/>
<line x1="448.10" y1="281.60" x2="450.90" y2="284.40" stroke="#777" stroke-width="0.6"/>
<line x1="448.10" y1="284.40" x2="450.90" y2="281.60" stroke="#777" stroke-width="0.6"/>
<polyline points="434.60,227.30 451.00,292.00 476.00,333.00" fill="none" stroke="#111" stroke-width="1.1" stroke-linejoin="round"/>
<circle cx="434.60" cy="227.30" r="1.54" fill="#111"/>
<circle cx="451.00" cy="292.00" r="1.54" fill="#111"/>
<polyline points="440.30,224.60 447.40,250.00 456.80,282.40 476.50,333.00" fill="none" stroke="#111" stroke-width="1.1" stroke-linejoin="round"/>
<circle cx="440.30" cy="224.60" r="1.54" fill="#111"/>
<circle cx="447.40" cy="250.00" r="1.54" fill="#111"/>
<circle cx="456.80" cy="282.40" r="1.54" fill="#111"/>
<polyline points="440.30,245.80 452.00,281.00 475.50,333.00" fill="none" stroke="#111" stroke-width="1.1" stroke-linejoin="round"/>
<circle cx="440.30" cy="245.80" r="1.54" fill="#111"/>
<circle cx="452.00" cy="281.00" r="1.54" fill="#111"/>
<polyline points="434.60,266.00 449.90,283.10 475.00,333.00" fill="none" stroke="#111" stroke-width="1.1" stroke-linejoin="round"/>
<rect x="433.20" y="264.60" width="2.80" height="2.80" fill="#111" stroke="none" stroke-width="1"/>
<rect x="448.50" y="281.70" width="2.80" height="2.80" fill="#111" stroke="none" stroke-width="1"/>
<polyline points="434.20,291.40 455.40,318.80 474.60,331.10 490.00,333.00" fill="none" stroke="#111" stroke-width="1.1" stroke-linejoin="round"/>
<polygon points="434.20,289.58 435.88,292.80 432.52,292.80" fill="#111"/>
<polygon points="455.40,316.98 457.08,320.20 453.72,320.20" fill="#111"/>
<polygon points="474.60,329.28 476.28,332.50 472.92,332.50" fill="#111"/>
<polyline points="434.20,302.30 455.00,305.50 478.00,313.00 493.30,333.00" fill="none" stroke="#111" stroke-width="0.9900000000000001" stroke-linejoin="round"/>
<line x1="432.80" y1="300.90" x2="435.60" y2="303.70" stroke="#777" stroke-width="0.6"/>
<line x1="432.80" y1="303.70" x2="435.60" y2="300.90" stroke="#777" stroke-width="0.6"/>
<line x1="453.60" y1="304.10" x2="456.40" y2="306.90" stroke="#777" stroke-width="0.6"/>
<line x1="453.60" y1="306.90" x2="456.40" y2="304.10" stroke="#777" stroke-width="0.6"/>
<line x1="476.60" y1="311.60" x2="479.40" y2="314.40" stroke="#777" stroke-width="0.6"/>
<line x1="476.60" y1="314.40" x2="479.40" y2="311.60" stroke="#777" stroke-width="0.6"/>
<polyline points="440.30,321.50 452.70,328.40 474.60,333.00" fill="none" stroke="#111" stroke-width="0.9900000000000001" stroke-linejoin="round"/>
<line x1="438.90" y1="320.10" x2="441.70" y2="322.90" stroke="#777" stroke-width="0.6"/>
<line x1="438.90" y1="322.90" x2="441.70" y2="320.10" stroke="#777" stroke-width="0.6"/>
<line x1="451.30" y1="327.00" x2="454.10" y2="329.80" stroke="#777" stroke-width="0.6"/>
<line x1="451.30" y1="329.80" x2="454.10" y2="327.00" stroke="#777" stroke-width="0.6"/>
<polyline points="439.60,330.40 474.60,333.00" fill="none" stroke="#111" stroke-width="0.9900000000000001" stroke-linejoin="round"/>
<line x1="438.20" y1="329.00" x2="441.00" y2="331.80" stroke="#777" stroke-width="0.6"/>
<line x1="438.20" y1="331.80" x2="441.00" y2="329.00" stroke="#777" stroke-width="0.6"/>
<polyline points="441.70,276.20 448.50,300.20 476.00,333.00" fill="none" stroke="#111" stroke-width="1.1" stroke-linejoin="round"/>
<polyline points="434.20,291.40 449.90,303.70 477.00,333.00" fill="none" stroke="#111" stroke-width="0.9900000000000001" stroke-linejoin="round"/>
<polyline points="440.30,238.30 453.00,290.00 474.00,333.00 492.00,333.00" fill="none" stroke="#111" stroke-width="1.1" stroke-linejoin="round"/>
<polyline points="440.30,245.80 453.70,282.40 493.40,333.00" fill="none" stroke="#111" stroke-width="1.1" stroke-linejoin="round"/>
<polyline points="434.60,227.30 455.10,292.00 492.00,333.00" fill="none" stroke="#111" stroke-width="0.9900000000000001" stroke-linejoin="round"/>
<rect x="473.40" y="331.40" width="2.20" height="2.20" fill="#111" stroke="none" stroke-width="1"/>
<rect x="475.40" y="331.40" width="2.20" height="2.20" fill="#111" stroke="none" stroke-width="1"/>
<rect x="476.90" y="331.40" width="2.20" height="2.20" fill="#111" stroke="none" stroke-width="1"/>
<rect x="489.40" y="331.40" width="2.20" height="2.20" fill="#111" stroke="none" stroke-width="1"/>
<rect x="491.90" y="331.40" width="2.20" height="2.20" fill="#111" stroke="none" stroke-width="1"/>
</svg>
</body></html>
